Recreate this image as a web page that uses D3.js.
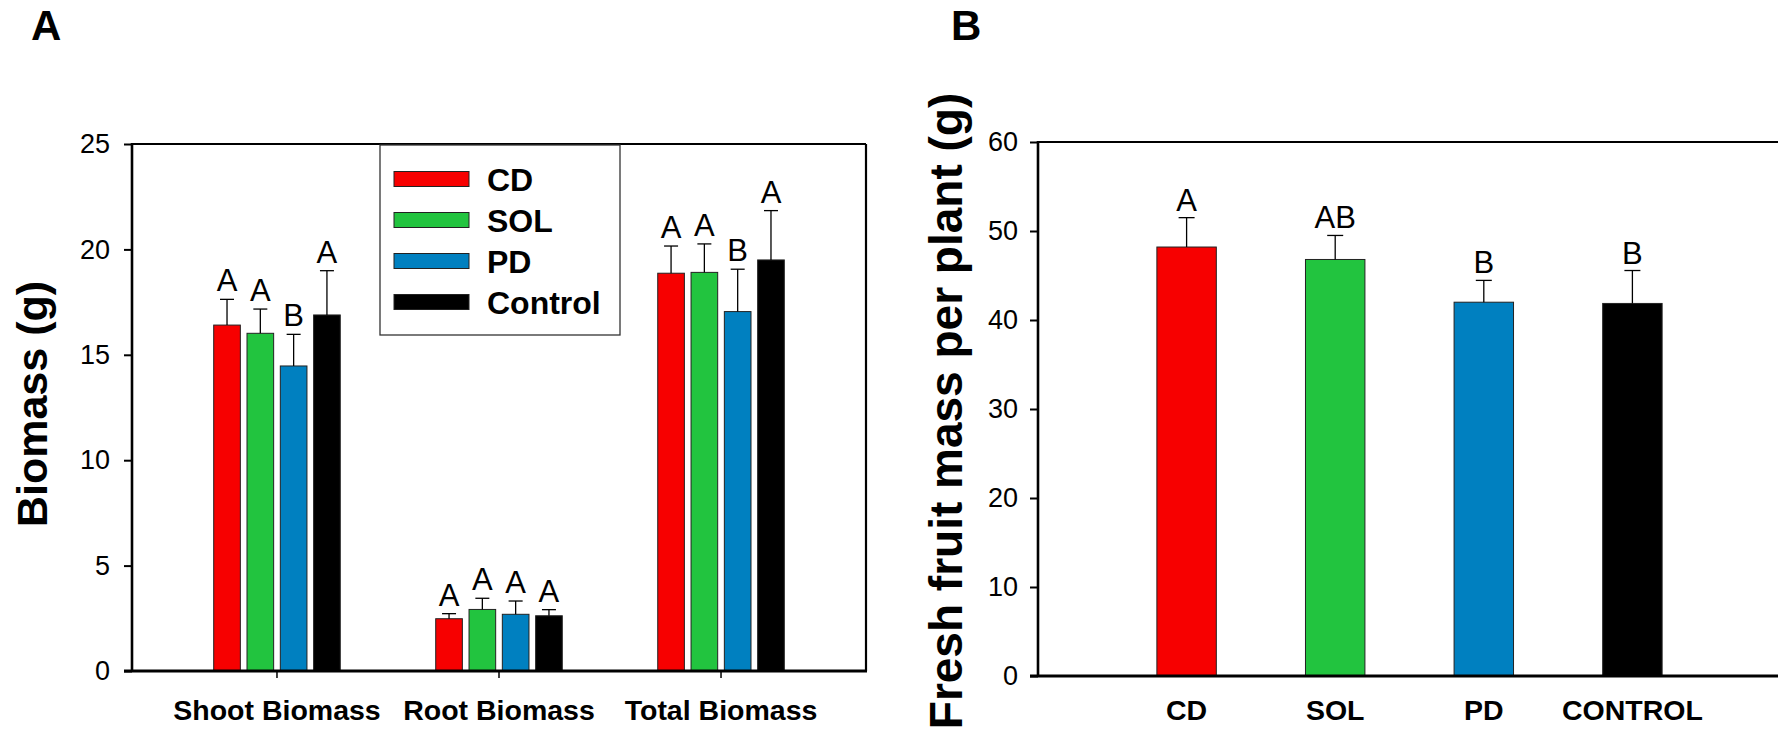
<!DOCTYPE html>
<html>
  <head>
    <meta charset="UTF-8" />
    <title>Biomass and fruit mass</title>
    <style>
      body { margin: 0; background: #fff; }
      svg text { font-family: "Liberation Sans", Arial, sans-serif; fill: #000; }
    </style>
  </head>
  <body>
    <svg id="chart" width="1778" height="730"></svg>
    <script src="https://d3js.org/d3.v7.min.js"></script>
    <script>
      // panel A data
      var groups = ["Shoot Biomass", "Root Biomass", "Total Biomass"];
      var treatments = ["CD", "SOL", "PD", "Control"];
      var shootMean = [16.41, 16.02, 14.47, 16.89];
      var shootErr = [1.22, 1.15, 1.5, 2.1];
      var shootLetters = ["A", "A", "B", "A"];
      var rootMean = [2.48, 2.92, 2.69, 2.62];
      var rootErr = [0.24, 0.53, 0.63, 0.29];
      var rootLetters = ["A", "A", "A", "A"];
      var totalMean = [18.87, 18.91, 17.05, 19.5];
      var totalErr = [1.29, 1.35, 2.01, 2.34];
      var totalLetters = ["A", "A", "B", "A"];
      var biomassTicks = [0, 5, 10, 15, 20, 25];

      // panel B data
      var fruitTreatments = ["CD", "SOL", "PD", "CONTROL"];
      var fruitMean = [48.2, 46.8, 42.0, 41.86];
      var fruitErr = [3.3, 2.7, 2.45, 3.7];
      var fruitLetters = ["A", "AB", "B", "B"];
      var fruitTicks = [0, 10, 20, 30, 40, 50, 60];

      var colours = ["#f70000", "#22c43f", "#0080c0", "#000000"];

      var svg = d3.select("#chart");

      // build rows for panel A
      var means = [shootMean, rootMean, totalMean];
      var errs = [shootErr, rootErr, totalErr];
      var lets = [shootLetters, rootLetters, totalLetters];
      var rowsA = [];
      groups.forEach(function (g, i) {
        treatments.forEach(function (t, j) {
          rowsA.push({ group: g, treat: t, mean: means[i][j], err: errs[i][j], letter: lets[i][j] });
        });
      });

      var colour = d3.scaleOrdinal().domain(treatments).range(colours);

      // ---------- panel A ----------
      var A = { left: 132, right: 866, top: 144, bottom: 671 };
      var yA = d3.scaleLinear().domain([0, 25]).range([A.bottom, A.top]);
      var x0 = d3.scaleBand().domain(groups).range([A.left, A.right]).paddingInner(0).paddingOuter(0.153);
      var x1 = d3.scaleBand().domain(treatments).range([0, x0.bandwidth()]).paddingInner(0.2).paddingOuter(1.433);

      var gA = svg.append("g");

      gA.selectAll("rect.bar")
        .data(rowsA)
        .enter()
        .append("rect")
        .attr("class", "bar")
        .attr("x", d => x0(d.group) + x1(d.treat))
        .attr("y", d => yA(d.mean))
        .attr("width", x1.bandwidth())
        .attr("height", d => yA(0) - yA(d.mean))
        .attr("fill", d => colour(d.treat))
        .attr("stroke", "#222")
        .attr("stroke-width", 1);

      var errA = gA.selectAll("g.err").data(rowsA).enter().append("g").attr("class", "err");
      errA.append("line")
        .attr("x1", d => x0(d.group) + x1(d.treat) + x1.bandwidth() / 2)
        .attr("x2", d => x0(d.group) + x1(d.treat) + x1.bandwidth() / 2)
        .attr("y1", d => yA(d.mean))
        .attr("y2", d => yA(d.mean + d.err))
        .attr("stroke", "#000").attr("stroke-width", 1.3);
      errA.append("line")
        .attr("x1", d => x0(d.group) + x1(d.treat) + x1.bandwidth() / 2 - 7)
        .attr("x2", d => x0(d.group) + x1(d.treat) + x1.bandwidth() / 2 + 7)
        .attr("y1", d => yA(d.mean + d.err))
        .attr("y2", d => yA(d.mean + d.err))
        .attr("stroke", "#000").attr("stroke-width", 1.3);
      errA.append("text")
        .attr("x", d => x0(d.group) + x1(d.treat) + x1.bandwidth() / 2)
        .attr("y", d => yA(d.mean + d.err) - 8)
        .attr("text-anchor", "middle")
        .style("font-size", "31px")
        .text(d => d.letter);

      // axes A
      var yAxisA = gA.append("g")
        .attr("transform", "translate(" + A.left + ",0)")
        .call(d3.axisLeft(yA).tickValues(biomassTicks).tickSize(8).tickPadding(14));
      yAxisA.select(".domain").remove();
      yAxisA.selectAll(".tick line").attr("stroke-width", 2);
      yAxisA.selectAll("text").style("font-size", "27px");

      var xAxisA = gA.append("g")
        .attr("transform", "translate(0," + A.bottom + ")")
        .call(d3.axisBottom(x0).tickSize(7).tickPadding(22));
      xAxisA.select(".domain").remove();
      xAxisA.selectAll(".tick line").attr("stroke-width", 1.5);
      xAxisA.selectAll("text").style("font-size", "28.5px").style("font-weight", "bold");

      // frame
      gA.append("line").attr("x1", A.left).attr("x2", A.right).attr("y1", A.top).attr("y2", A.top).attr("stroke", "#000").attr("stroke-width", 2.2);
      gA.append("line").attr("x1", A.right).attr("x2", A.right).attr("y1", A.top).attr("y2", A.bottom).attr("stroke", "#000").attr("stroke-width", 2.2);
      gA.append("line").attr("x1", A.left).attr("x2", A.left).attr("y1", A.top - 1).attr("y2", A.bottom + 1).attr("stroke", "#000").attr("stroke-width", 2.6);
      gA.append("line").attr("x1", A.left - 8).attr("x2", A.right + 1).attr("y1", A.bottom).attr("y2", A.bottom).attr("stroke", "#000").attr("stroke-width", 3);

      // legend
      var legend = gA.append("g").attr("transform", "translate(380,145)");
      legend.append("rect").attr("width", 240).attr("height", 190).attr("fill", "#fff").attr("stroke", "#333").attr("stroke-width", 1.3);
      var li = legend.selectAll("g.li").data(treatments).enter().append("g").attr("class", "li")
        .attr("transform", (d, i) => "translate(0," + (34 + i * 41) + ")");
      li.append("rect").attr("x", 14).attr("y", -7.5).attr("width", 75).attr("height", 15)
        .attr("fill", d => colour(d)).attr("stroke", "#222").attr("stroke-width", 1);
      li.append("text").attr("x", 107).attr("y", 11.5).style("font-size", "32px").style("font-weight", "bold").text(d => d);

      // y title A
      svg.append("text")
        .attr("transform", "translate(47,404) rotate(-90)")
        .attr("text-anchor", "middle")
        .style("font-size", "43px").style("font-weight", "bold")
        .text("Biomass (g)");

      // panel labels
      svg.append("text").attr("x", 31).attr("y", 40).style("font-size", "42px").style("font-weight", "bold").text("A");
      svg.append("text").attr("x", 951).attr("y", 40).style("font-size", "42px").style("font-weight", "bold").text("B");

      // ---------- panel B ----------
      var B = { left: 1038, right: 1781, top: 142, bottom: 676 };
      var rowsB = fruitTreatments.map(function (t, i) {
        return { treat: t, mean: fruitMean[i], err: fruitErr[i], letter: fruitLetters[i], fill: colours[i] };
      });
      var yB = d3.scaleLinear().domain([0, 60]).range([B.bottom, B.top]);
      var xB = d3.scaleBand().domain(fruitTreatments).range([B.left, B.right]).paddingInner(0.6).paddingOuter(0.8);

      var gB = svg.append("g");
      gB.selectAll("rect.bar")
        .data(rowsB)
        .enter()
        .append("rect")
        .attr("class", "bar")
        .attr("x", d => xB(d.treat))
        .attr("y", d => yB(d.mean))
        .attr("width", xB.bandwidth())
        .attr("height", d => yB(0) - yB(d.mean))
        .attr("fill", d => d.fill)
        .attr("stroke", "#222")
        .attr("stroke-width", 1);

      var errB = gB.selectAll("g.err").data(rowsB).enter().append("g").attr("class", "err");
      errB.append("line")
        .attr("x1", d => xB(d.treat) + xB.bandwidth() / 2)
        .attr("x2", d => xB(d.treat) + xB.bandwidth() / 2)
        .attr("y1", d => yB(d.mean))
        .attr("y2", d => yB(d.mean + d.err))
        .attr("stroke", "#000").attr("stroke-width", 1.3);
      errB.append("line")
        .attr("x1", d => xB(d.treat) + xB.bandwidth() / 2 - 8)
        .attr("x2", d => xB(d.treat) + xB.bandwidth() / 2 + 8)
        .attr("y1", d => yB(d.mean + d.err))
        .attr("y2", d => yB(d.mean + d.err))
        .attr("stroke", "#000").attr("stroke-width", 1.3);
      errB.append("text")
        .attr("x", d => xB(d.treat) + xB.bandwidth() / 2)
        .attr("y", d => yB(d.mean + d.err) - 7)
        .attr("text-anchor", "middle")
        .style("font-size", "31px")
        .text(d => d.letter);

      var yAxisB = gB.append("g")
        .attr("transform", "translate(" + B.left + ",0)")
        .call(d3.axisLeft(yB).tickValues(fruitTicks).tickSize(8).tickPadding(12));
      yAxisB.select(".domain").remove();
      yAxisB.selectAll(".tick line").attr("stroke-width", 2);
      yAxisB.selectAll("text").style("font-size", "27px");

      var xAxisB = gB.append("g")
        .attr("transform", "translate(0," + B.bottom + ")")
        .call(d3.axisBottom(xB).tickSize(0).tickPadding(24));
      xAxisB.select(".domain").remove();
      xAxisB.selectAll("text").style("font-size", "28.5px").style("font-weight", "bold");

      gB.append("line").attr("x1", B.left).attr("x2", B.right).attr("y1", B.top).attr("y2", B.top).attr("stroke", "#000").attr("stroke-width", 2.2);
      gB.append("line").attr("x1", B.left).attr("x2", B.left).attr("y1", B.top - 1).attr("y2", B.bottom + 1).attr("stroke", "#000").attr("stroke-width", 2.6);
      gB.append("line").attr("x1", B.left - 8).attr("x2", B.right).attr("y1", B.bottom).attr("y2", B.bottom).attr("stroke", "#000").attr("stroke-width", 3);

      svg.append("text")
        .attr("transform", "translate(962,411) rotate(-90)")
        .attr("text-anchor", "middle")
        .style("font-size", "46px").style("font-weight", "bold")
        .text("Fresh fruit mass per plant (g)");
    </script>
  </body>
</html>
